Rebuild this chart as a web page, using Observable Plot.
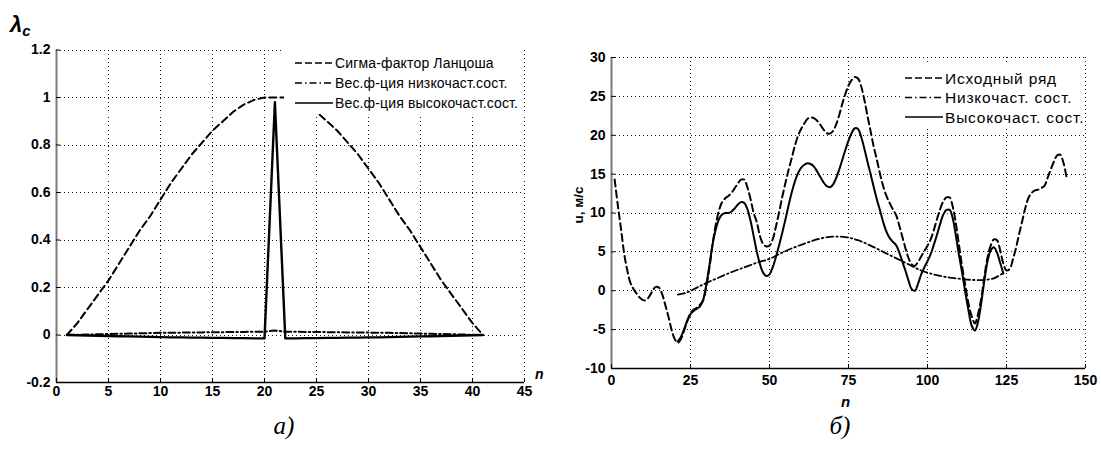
<!DOCTYPE html>
<html><head><meta charset="utf-8">
<script src="https://cdn.jsdelivr.net/npm/d3@7"></script>
<script src="https://cdn.jsdelivr.net/npm/@observablehq/plot@0.6"></script>
<style>
body{margin:0;background:#fff;}
#wrap{position:relative;width:1101px;height:453px;overflow:hidden;background:#fff;font-family:"Liberation Sans",Arial,sans-serif;}
.abs{position:absolute;}
</style></head><body><div id="wrap"></div>
<script>
// ---------- Panel а): weight functions, n = 1..41 ----------
const aTicksX = [0, 5, 10, 15, 20, 25, 30, 35, 40, 45];
const aTicksY = [-0.2, 0, 0.2, 0.4, 0.6, 0.8, 1, 1.2];
const aSigma = [0.00,0.05,0.11,0.17,0.23,0.30,0.37,0.44,0.50,0.57,
                0.64,0.70,0.76,0.81,0.86,0.90,0.94,0.97,0.99,1.00,
                1.00,
                1.00,0.99,0.97,0.94,0.90,0.86,0.81,0.76,0.70,0.64,
                0.57,0.50,0.44,0.37,0.30,0.23,0.17,0.11,0.05,0.00];
const aLow = [0.000,0.001,0.002,0.003,0.004,0.005,0.006,0.007,0.008,0.009,
              0.010,0.010,0.011,0.011,0.012,0.012,0.013,0.013,0.014,0.014,
              0.019,
              0.014,0.014,0.013,0.013,0.012,0.012,0.011,0.011,0.010,0.010,
              0.009,0.008,0.007,0.006,0.005,0.004,0.003,0.002,0.001,0.000];
const aHigh = [0.000,-0.001,-0.002,-0.003,-0.004,-0.005,-0.006,-0.007,-0.008,-0.009,
               -0.010,-0.010,-0.011,-0.011,-0.012,-0.012,-0.013,-0.013,-0.014,-0.014,
               0.980,
               -0.014,-0.014,-0.013,-0.013,-0.012,-0.012,-0.011,-0.011,-0.010,-0.010,
               -0.009,-0.008,-0.007,-0.006,-0.005,-0.004,-0.003,-0.002,-0.001,0.000];
const aLegend = ["Сигма-фактор Ланцоша", "Вес.ф-ция низкочаст.сост.", "Вес.ф-ция высокочаст.сост."];

// ---------- Panel б): series, n = 1..144 ----------
const bTicksX = [0, 25, 50, 75, 100, 125, 150];
const bTicksY = [-10, -5, 0, 5, 10, 15, 20, 25, 30];
const bOrigStart = 1;
const bOrig = [14.3,11.0,8.0,4.8,2.6,1.0,0.2,-0.4,-0.9,-1.2,
               -1.2,-0.7,0.0,0.5,0.4,-0.4,-1.8,-3.3,-5.0,-6.2,
               -6.7,-6.2,-5.1,-3.9,-2.9,-2.4,-2.2,-1.8,-1.2,0.5,
               3.0,6.0,8.5,10.3,11.4,11.9,12.2,12.6,13.2,13.8,
               14.3,14.3,13.3,11.8,10.0,8.8,7.0,6.0,5.7,5.8,
               6.6,8.2,10.0,12.0,13.8,15.5,17.0,18.6,19.9,20.8,
               21.5,22.1,22.3,22.2,21.9,21.4,20.8,20.3,20.2,20.5,
               21.3,22.5,24.0,25.3,26.4,27.1,27.5,27.3,26.3,24.6,
               22.5,20.5,18.5,16.8,15.0,13.4,12.2,11.3,10.5,9.8,
               8.5,7.0,5.5,4.2,3.4,3.2,3.7,4.4,5.1,5.8,
               6.6,7.8,9.2,10.5,11.5,12.0,12.0,10.8,8.6,5.8,
               3.0,0.6,-1.7,-3.3,-4.2,-3.0,-1.0,1.8,4.3,5.8,
               6.6,6.5,5.2,3.5,2.6,2.8,4.0,5.5,7.3,9.0,
               10.7,12.0,12.6,12.9,13.0,13.2,13.5,14.5,15.6,16.6,
               17.4,17.5,16.5,14.6];
const bHighStart = 21;
const bHigh = [-6.5,-5.9,-4.9,-3.8,-3.0,-2.6,-2.3,-2.0,-1.2,0.8,
               3.3,6.0,7.9,9.2,9.8,10.0,10.0,10.2,10.6,11.1,
               11.4,11.3,10.5,9.0,7.0,5.0,3.4,2.3,1.9,2.1,
               3.0,4.3,5.8,7.4,9.1,10.9,12.6,14.0,15.1,15.8,
               16.2,16.4,16.3,16.0,15.4,14.7,14.0,13.5,13.3,13.6,
               14.4,15.5,16.8,18.1,19.3,20.3,20.9,20.8,19.8,18.3,
               16.6,15.0,13.3,11.7,10.3,8.8,7.6,6.8,6.3,5.9,
               5.0,3.8,2.6,1.3,0.2,0.0,0.9,2.1,3.0,3.8,
               4.7,5.9,7.2,8.6,9.8,10.4,10.4,9.3,7.0,4.5,
               2.2,-0.3,-2.6,-4.5,-5.1,-4.0,-1.6,1.3,3.8,5.2,
               5.6,4.9,3.6,2.2];
const bLowN = [21,24,27,30,34,38,42,46,50,54,58,62,66,70,74,78,82,86,90,94,98,102,106,110,114,118,121,124];
const bLowV = [-0.5,-0.2,0.4,1.0,1.7,2.4,3.0,3.6,4.1,4.9,5.6,6.2,6.7,6.95,6.9,6.5,5.8,5.0,4.2,3.4,2.6,2.1,1.75,1.55,1.4,1.4,1.6,2.3];
const bLegend = ["Исходный ряд", "Низкочаст. сост.", "Высокочаст. сост."];

// ---------- helpers ----------
const wrap = document.getElementById("wrap");
const FONT = '"Liberation Sans", Arial, sans-serif';
const DASH = "7,4", DASHDOT = "7,3,1.5,3";
function place(node, left, top) {
  const d = document.createElement("div");
  d.className = "abs"; d.style.left = left + "px"; d.style.top = top + "px";
  d.appendChild(node); wrap.appendChild(d); return d;
}
const gridStyle = {stroke: "#000", strokeOpacity: 0.9, strokeDasharray: "1,3", strokeWidth: 1, shapeRendering: "crispEdges"};
const fmt = d => String(d);
const axisText = {fontWeight: "bold", fontSize: 14, label: null, tickFormat: fmt, stroke: "#000"};

// ---------- Panel а) ----------
const rowsA = aSigma.map((s, i) => ({n: i + 1, sigma: s, low: aLow[i], high: aHigh[i]}));
const plotA = Plot.plot({
  width: 560, height: 420,
  marginLeft: 56, marginRight: 36, marginTop: 49.5, marginBottom: 38,
  style: {fontFamily: FONT, fontSize: "14px", fontWeight: "bold", color: "#000", background: "transparent", overflow: "visible"},
  x: {domain: [0, 45]},
  y: {domain: [-0.2, 1.2]},
  marks: [
    Plot.gridX(aTicksX, gridStyle),
    Plot.gridY(aTicksY, gridStyle),
    Plot.line(rowsA, {x: "n", y: "low", stroke: "#000", strokeWidth: 2, strokeDasharray: DASHDOT}),
    Plot.line(rowsA, {x: "n", y: "sigma", stroke: "#000", strokeWidth: 2, strokeDasharray: DASH}),
    Plot.line(rowsA, {x: "n", y: "high", stroke: "#000", strokeWidth: 2.4}),
    Plot.ruleY([-0.2], {stroke: "#000", strokeWidth: 1.5}),
    Plot.ruleX([0], {stroke: "#7a7a7a", strokeWidth: 2}),
    Plot.axisX(aTicksX, {...axisText, tickSize: -4, tickPadding: 8}),
    Plot.axisY(aTicksY, {...axisText, tickSize: -4, tickPadding: 10})
  ]
});
place(plotA, 0, 0);

// ---------- Panel б) ----------
const rowsOrig = bOrig.map((v, i) => ({n: bOrigStart + i, v}));
const rowsHigh = bHigh.map((v, i) => ({n: bHighStart + i, v}));
const rowsLow = bLowN.map((n, i) => ({n, v: bLowV[i]}));
const plotB = Plot.plot({
  width: 541, height: 420,
  marginLeft: 51, marginRight: 16, marginTop: 57, marginBottom: 52,
  style: {fontFamily: FONT, fontSize: "14px", fontWeight: "bold", color: "#000", background: "transparent", overflow: "visible"},
  x: {domain: [0, 150]},
  y: {domain: [-10, 30]},
  marks: [
    Plot.gridX(bTicksX, gridStyle),
    Plot.gridY(bTicksY, gridStyle),
    Plot.line(rowsLow, {x: "n", y: "v", stroke: "#000", strokeWidth: 1.8, strokeDasharray: DASHDOT, curve: "catmull-rom"}),
    Plot.line(rowsOrig, {x: "n", y: "v", stroke: "#000", strokeWidth: 2, strokeDasharray: DASH, curve: "catmull-rom"}),
    Plot.line(rowsHigh, {x: "n", y: "v", stroke: "#000", strokeWidth: 2, curve: "catmull-rom"}),
    Plot.ruleY([-10], {stroke: "#000", strokeWidth: 1.5}),
    Plot.ruleX([0], {stroke: "#7a7a7a", strokeWidth: 2}),
    Plot.axisX(bTicksX, {...axisText, tickSize: -4, tickPadding: 11}),
    Plot.axisY(bTicksY, {...axisText, tickSize: -4, tickPadding: 10})
  ]
});
place(plotB, 560, 0);

// ---------- Legends (white boxes inside axes) ----------
function legend(labels, styles, box) {
  const svg = d3.create("svg").attr("width", box.w).attr("height", box.h)
    .style("display", "block").style("background", "#fff");
  labels.forEach((lab, i) => {
    const y = box.row0 + i * box.rowH;
    svg.append("line").attr("x1", box.sx0).attr("x2", box.sx1).attr("y1", y).attr("y2", y)
      .attr("stroke", "#000").attr("stroke-width", 1.7)
      .attr("stroke-dasharray", styles[i] || null);
    svg.append("text").attr("x", box.tx).attr("y", y).attr("dy", "0.36em")
      .attr("font-family", FONT).attr("font-size", box.fs)
      .attr("letter-spacing", box.ls).attr("fill", "#000").text(lab);
  });
  place(svg.node(), box.x, box.y);
}
legend(aLegend, ["7,3", "7,3,1.5,3", null],
  {x: 284, y: 46, w: 238, h: 68, row0: 17, rowH: 20, sx0: 11, sx1: 49, tx: 51, fs: 14, ls: 0.15});
legend(bLegend, ["7,3", "7,3,1.5,3", null],
  {x: 900, y: 62, w: 185, h: 66, row0: 16, rowH: 19.5, sx0: 5, sx1: 43, tx: 45, fs: 15.5, ls: 0.8});

// ---------- Axis titles & captions ----------
function label(html, css) {
  const d = document.createElement("div");
  d.className = "abs"; d.innerHTML = html;
  Object.assign(d.style, css); wrap.appendChild(d); return d;
}
label('<span style="font-size:22px">λ</span><sub style="font-size:15px;vertical-align:-4px">c</sub>',
  {left: "10px", top: "14px", fontWeight: "bold", fontStyle: "italic", fontFamily: FONT, lineHeight: "1"});
label('n', {left: "535px", top: "366px", fontWeight: "bold", fontStyle: "italic", fontFamily: FONT, fontSize: "14px"});
label('n', {left: "841px", top: "393px", fontWeight: "bold", fontStyle: "italic", fontFamily: FONT, fontSize: "15px"});
label('u, м/с', {left: "578px", top: "205px", fontWeight: "bold", fontFamily: FONT, fontSize: "13.5px",
  transform: "translate(-50%,-50%) rotate(-90deg)", transformOrigin: "50% 50%", whiteSpace: "nowrap"});
const SERIF = '"Liberation Serif", "Times New Roman", serif';
label('а)', {left: "284px", top: "426px", fontStyle: "italic", fontFamily: SERIF, fontSize: "25px",
  transform: "translate(-50%,-50%)", whiteSpace: "nowrap"});
label('б)', {left: "840px", top: "426px", fontStyle: "italic", fontFamily: SERIF, fontSize: "25px",
  transform: "translate(-50%,-50%)", whiteSpace: "nowrap"});
</script></body></html>
